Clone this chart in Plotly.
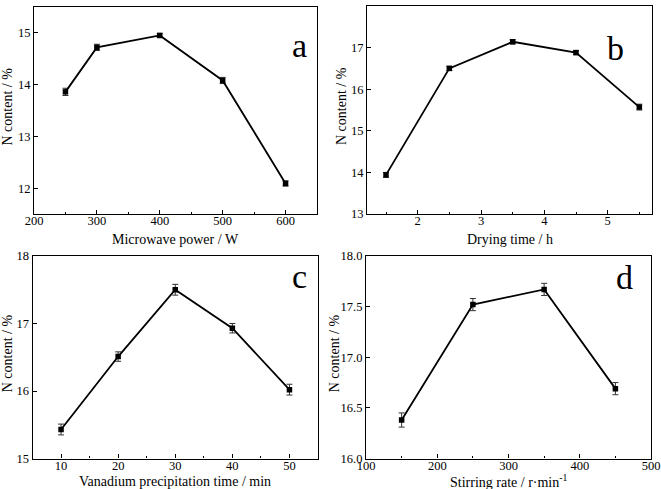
import plotly.graph_objects as go

W, H = 661, 489

# Data
a_x = [250, 300, 400, 500, 600]
a_y = [13.86, 14.72, 14.95, 14.08, 12.09]
a_err = [0.07, 0.06, 0.04, 0.06, 0.05]

b_x = [1.5, 2.5, 3.5, 4.5, 5.5]
b_y = [13.94, 16.50, 17.14, 16.88, 15.57]
b_err = [0.06, 0.05, 0.05, 0.05, 0.07]

c_x = [10, 20, 30, 40, 50]
c_y = [15.43, 16.51, 17.50, 16.93, 16.02]
c_err = [0.08, 0.07, 0.08, 0.07, 0.08]

d_x = [150, 250, 350, 450]
d_y = [16.38, 17.52, 17.67, 16.69]
d_err = [0.07, 0.06, 0.06, 0.06]

x_titles = ["Microwave power / W", "Drying time / h",
            "Vanadium precipitation time / min", "Stirring rate / r·min<sup>-1</sup>"]
y_title = "N content / %"
letters = ["a", "b", "c", "d"]

# pixel frames: (left, right, top, bottom)
frames = [(34, 317, 7, 214), (367, 652, 6, 214),
          (32.5, 318, 256, 458.5), (366, 651, 256, 458.5)]
x_ranges = [[200, 650], [1.2, 5.7], [5, 55], [100, 500]]
y_ranges = [[11.5, 15.5], [13, 18], [15, 18], [16, 18]]
x_dticks = [100, 1, 10, 100]
y_dticks = [1, 1, 1, 0.5]
y_formats = ["d", "d", "d", ".1f"]
letter_pos = [(299, 25), (626, 28), (299, 276), (635, 277)]
xtitle_y = [239, 239, 481, 481]
ytitle_x = [7, 342, 7, 334]

FONT = "Liberation Serif, Times New Roman, serif"
fig = go.Figure()
datasets = [(a_x, a_y, a_err), (b_x, b_y, b_err), (c_x, c_y, c_err), (d_x, d_y, d_err)]

for i, (xs, ys, es) in enumerate(datasets):
    n = "" if i == 0 else str(i + 1)
    fig.add_trace(go.Scatter(
        x=xs, y=ys, mode="lines+markers",
        line=dict(color="black", width=1.8),
        marker=dict(symbol="square", size=5.5, color="black"),
        error_y=dict(type="data", array=es, color="#333", thickness=1, width=3),
        xaxis="x" + n, yaxis="y" + n, showlegend=False))
    l, r, t, b = frames[i]
    axcommon = dict(showline=True, linecolor="black", linewidth=1.2, mirror=True,
                    showgrid=False, zeroline=False, ticks="inside", ticklen=4,
                    tickcolor="black", tickwidth=1, automargin=False,
                    tickfont=dict(family=FONT, size=12.5, color="black"))
    fig.layout["xaxis" + n] = dict(
        domain=[l / W, r / W], anchor="y" + n, range=x_ranges[i],
        tick0=0, dtick=x_dticks[i], ticklabelstandoff=-5,
        minor=dict(ticks="inside", ticklen=2, tickcolor="black", dtick=x_dticks[i] / 2, tick0=0),
        **axcommon)
    fig.layout["yaxis" + n] = dict(
        domain=[1 - b / H, 1 - t / H], anchor="x" + n, range=y_ranges[i],
        tick0=0, dtick=y_dticks[i], tickformat=y_formats[i],
        **axcommon)
    # axis titles
    fig.add_annotation(x=(l + r) / 2 / W, y=1 - xtitle_y[i] / H, xref="paper", yref="paper",
                       text=x_titles[i], showarrow=False, xanchor="center", yanchor="middle",
                       font=dict(family=FONT, size=14, color="black"))
    fig.add_annotation(x=ytitle_x[i] / W, y=1 - ((t + b) / 2 - 4) / H, xref="paper", yref="paper",
                       text=y_title, showarrow=False, textangle=-90,
                       xanchor="center", yanchor="middle",
                       font=dict(family=FONT, size=14, color="black"))
    lx, ly = letter_pos[i]
    fig.add_annotation(x=lx / W, y=1 - ly / H, xref="paper", yref="paper",
                       text=letters[i], showarrow=False,
                       font=dict(family=FONT, size=34, color="black"))

fig.update_layout(width=W, height=H, margin=dict(l=0, r=0, t=0, b=0),
                  paper_bgcolor="white", plot_bgcolor="white")
fig.write_html("out.html")
